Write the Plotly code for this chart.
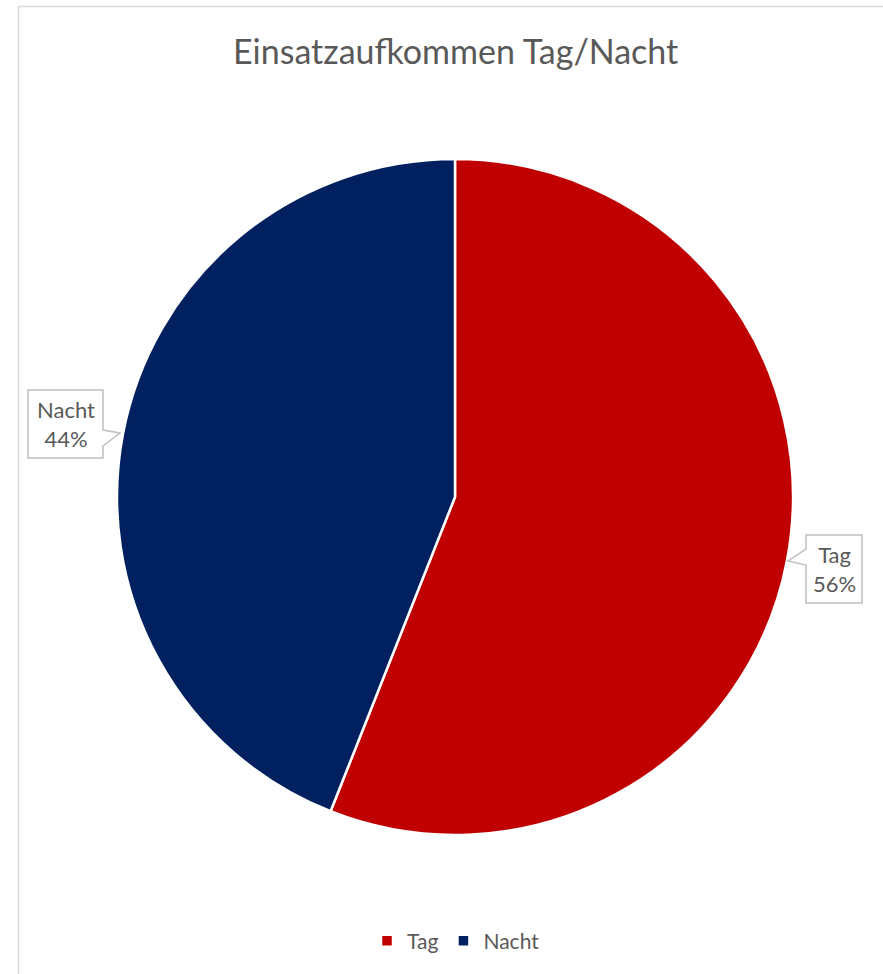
import plotly.graph_objects as go

W, H = 883, 974

categories = ["Tag", "Nacht"]
values = [56, 44]
colors = ["#C00000", "#002060"]
title_text = "Einsatzaufkommen Tag/Nacht"

FONT = "Lato"
GRAY = "#595959"

def px(x):
    return x / W

def py(y):
    return 1 - y / H

fig = go.Figure()
fig.add_trace(go.Pie(
    labels=categories,
    values=values,
    sort=False,
    direction="clockwise",
    rotation=0,
    marker=dict(colors=colors, line=dict(color="white", width=2.5)),
    textinfo="none",
    hoverinfo="label+percent",
    domain=dict(x=[px(117), px(793)], y=[py(835), py(159)]),
))

total = sum(values)
pct = [round(v / total * 100) for v in values]

def callout_path(pts):
    return "M " + " L ".join(f"{px(x)},{py(y)}" for x, y in pts) + " Z"

nacht_box = [(28, 390), (103, 390), (103, 430), (120, 433), (103, 446), (103, 458), (28, 458)]
tag_box = [(806, 535), (862, 535), (862, 603), (806, 603), (806, 565), (788, 561), (806, 549)]

shapes = [
    dict(type="rect", xref="paper", yref="paper", x0=px(18.5), y0=-0.05, x1=1.05, y1=py(6.5),
         line=dict(color="#D9D9D9", width=1.5), fillcolor="rgba(0,0,0,0)", layer="below"),
    dict(type="path", xref="paper", yref="paper", path=callout_path(nacht_box),
         line=dict(color="#BFBFBF", width=1.5), fillcolor="white"),
    dict(type="path", xref="paper", yref="paper", path=callout_path(tag_box),
         line=dict(color="#BFBFBF", width=1.5), fillcolor="white"),
]

annotations = [
    dict(text=title_text, x=px(455), y=py(50), xref="paper", yref="paper",
         showarrow=False, font=dict(family=FONT, size=34, color=GRAY),
         xanchor="center", yanchor="middle"),
    dict(text=f"{categories[1]}<br>{pct[1]}%", x=px(65.5), y=py(424), xref="paper", yref="paper",
         showarrow=False, font=dict(family=FONT, size=22, color=GRAY),
         xanchor="center", yanchor="middle", align="center"),
    dict(text=f"{categories[0]}<br>{pct[0]}%", x=px(834), y=py(569), xref="paper", yref="paper",
         showarrow=False, font=dict(family=FONT, size=22, color=GRAY),
         xanchor="center", yanchor="middle", align="center"),
]

fig.update_layout(
    width=W, height=H,
    margin=dict(l=0, r=0, t=0, b=0),
    paper_bgcolor="white",
    plot_bgcolor="white",
    font=dict(family=FONT, color=GRAY),
    shapes=shapes,
    annotations=annotations,
    showlegend=True,
    legend=dict(orientation="h", x=px(456), y=py(941), xanchor="center", yanchor="middle",
                font=dict(family=FONT, size=21, color=GRAY), itemwidth=30,
                bgcolor="rgba(0,0,0,0)"),
)

fig.write_html("out.html", config={"displayModeBar": False},
               post_script="document.body.style.margin='0';document.body.style.overflow='hidden';")
